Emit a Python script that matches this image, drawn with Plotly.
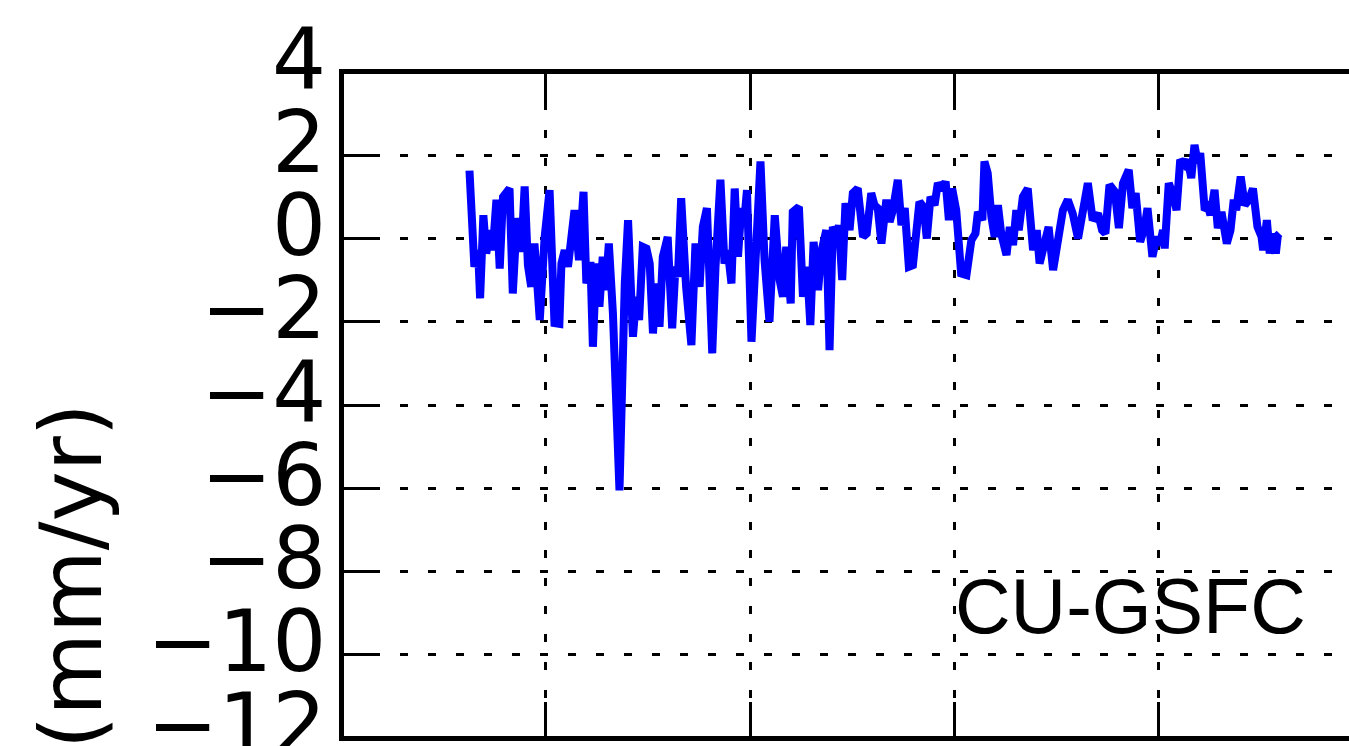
import plotly.graph_objects as go

# Rate of global mean sea level change, CU-GSFC record
years = [
    1993.13, 1993.25, 1993.34, 1993.39, 1993.47, 1993.54, 1993.64, 1993.70, 1993.79, 1993.87,
    1993.95, 1994.11, 1994.19, 1994.29, 1994.40, 1994.48, 1994.56, 1994.64, 1994.72, 1994.85,
    1994.97, 1995.09, 1995.21, 1995.33, 1995.38, 1995.46, 1995.54, 1995.62, 1995.70, 1995.81,
    1995.92, 1995.99, 1996.09, 1996.15, 1996.23, 1996.31, 1996.39, 1996.46, 1996.54, 1996.64,
    1996.80, 1996.93, 1997.01, 1997.13, 1997.21, 1997.28, 1997.37, 1997.46, 1997.54, 1997.62,
    1997.70, 1997.78, 1997.86, 1997.98, 1998.09, 1998.17, 1998.23, 1998.31, 1998.43, 1998.56,
    1998.66, 1998.76, 1998.84, 1998.94, 1999.07, 1999.15, 1999.27, 1999.37, 1999.45, 1999.54,
    1999.62, 1999.70, 1999.78, 1999.84, 1999.92, 2000.03, 2000.15, 2000.25, 2000.35, 2000.47,
    2000.60, 2000.72, 2000.80, 2000.88, 2000.99, 2001.04, 2001.19, 2001.29, 2001.39, 2001.47,
    2001.55, 2001.66, 2001.74, 2001.86, 2001.94, 2002.02, 2002.12, 2002.17, 2002.25, 2002.33,
    2002.43, 2002.51, 2002.63, 2002.76, 2002.85, 2002.96, 2003.04, 2003.12, 2003.21, 2003.33,
    2003.41, 2003.49, 2003.61, 2003.70, 2003.78, 2003.88, 2003.98, 2004.14, 2004.24, 2004.32,
    2004.41, 2004.51, 2004.59, 2004.70, 2004.78, 2004.86, 2004.94, 2005.04, 2005.16, 2005.29,
    2005.41, 2005.51, 2005.57, 2005.68, 2005.73, 2005.81, 2005.90, 2005.98, 2006.06, 2006.14,
    2006.27, 2006.35, 2006.43, 2006.51, 2006.57, 2006.67, 2006.79, 2006.92, 2007.01, 2007.08,
    2007.20, 2007.30, 2007.41, 2007.53, 2007.65, 2007.77, 2007.89, 2008.02, 2008.14, 2008.26,
    2008.38, 2008.51, 2008.61, 2008.69, 2008.79, 2008.92, 2009.02, 2009.12, 2009.26, 2009.35,
    2009.43, 2009.54, 2009.65, 2009.72, 2009.84, 2009.94, 2010.02, 2010.10, 2010.14, 2010.24,
    2010.36, 2010.43, 2010.52, 2010.63, 2010.71, 2010.79, 2010.87, 2010.95, 2011.01, 2011.12,
    2011.20, 2011.26, 2011.36, 2011.44, 2011.53, 2011.66, 2011.75, 2011.83, 2011.89, 2012.00,
    2012.10, 2012.20, 2012.30, 2012.41, 2012.51, 2012.55, 2012.64, 2012.71, 2012.79, 2012.86,
    2012.91, 2012.95,
]
rate_mm_yr = [
    1.63, -0.68, -0.28, -1.44, 0.56, -0.36, 0.20, -0.28, 0.93, -0.72,
    1.00, 1.20, -1.32, 0.49, -0.32, 1.25, -0.64, -1.16, -0.12, -1.96,
    0.04, 1.16, -2.03, -2.05, -0.60, -0.28, -0.68, 0.20, 0.68, -0.52,
    1.12, -1.08, -0.56, -2.60, -0.60, -1.64, -0.44, -1.24, -0.12, -1.80,
    -6.05, -1.08, 0.44, -2.36, -1.40, -1.96, -0.20, -0.24, -0.60, -2.28,
    -1.08, -2.12, -0.44, 0.04, -2.16, -0.68, -0.92, 0.97, -1.16, -2.56,
    -0.12, -1.16, 0.28, 0.73, -2.76, -0.68, 1.41, -0.60, -0.28, -1.08,
    1.20, -0.44, 0.73, 0.28, 1.16, -2.48, -0.04, 1.85, -0.52, -2.00,
    0.56, -1.00, -1.40, -0.20, -1.56, 0.64, 0.76, -1.40, -0.68, -2.08,
    -0.08, -1.24, -0.32, 0.20, -2.68, 0.28, 0.04, 0.32, -1.00, 0.85,
    0.20, 1.09, 1.20, 0.04, 0.12, 1.09, 0.80, 0.73, -0.12, 0.93,
    0.40, 0.68, 1.41, 0.32, 0.73, -0.68, -0.64, 0.88, 0.76, 0.00,
    1.00, 0.80, 1.33, 1.17, 1.37, 0.44, 1.20, 0.68, -0.84, -0.88,
    -0.04, 0.12, 0.64, 0.44, 1.85, 1.57, 0.52, 0.04, 0.80, 0.12,
    -0.40, 0.28, -0.16, 0.68, 0.20, 1.00, 1.20, -0.28, 0.20, -0.60,
    -0.12, 0.28, -0.76, 0.04, 0.68, 0.93, 0.60, 0.00, 0.68, 1.33,
    0.44, 0.60, 0.20, 0.12, 1.29, 1.13, 0.25, 1.33, 1.65, 0.73,
    1.09, -0.08, 0.28, 0.73, -0.44, 0.04, -0.16, 0.20, -0.24, 1.33,
    1.00, 0.68, 1.89, 1.77, 1.89, 1.45, 2.25, 1.81, 2.05, 0.68,
    0.76, 0.56, 1.17, 0.25, 0.64, -0.12, 0.20, 0.93, 0.68, 1.49,
    0.80, 0.93, 1.20, 0.28, 0.04, -0.28, 0.44, -0.36, 0.12, -0.36,
    0.08, 0.12,
]

y_ticks = [-12, -10, -8, -6, -4, -2, 0, 2, 4]
x_grid = [1995, 2000, 2005, 2010]
label_text = "CU-GSFC"
y_title = "(mm/yr)"

W, H = 1349, 746
ML, MR, MT, MB = 344, 0, 74, 10
PW = W - ML - MR
PH = H - MT - MB

# axis ranges: the 5 px spines sit just outside the plotting area,
# so the ranges stop half a spine short of 1990 / 4 / -12
X_RANGE = [1990.06, 2014.65]
Y_RANGE = [-11.952, 3.952]

fig = go.Figure()
fig.add_trace(go.Scatter(
    x=years, y=rate_mm_yr, mode="lines",
    line=dict(color="#0000FF", width=8),
    showlegend=False, hoverinfo="skip",
))

grid_style = dict(showgrid=True, gridcolor="black", gridwidth=2.5, griddash="8px,20px")

fig.update_xaxes(
    range=X_RANGE, tickvals=x_grid, showticklabels=False,
    ticks="inside", ticklen=34, tickwidth=3, tickcolor="black",
    showline=True, linecolor="black", linewidth=5, mirror="ticks",
    zeroline=False, **grid_style,
)
fig.update_yaxes(
    range=Y_RANGE, tickvals=y_ticks, showticklabels=False,
    ticks="inside", ticklen=34, tickwidth=3, tickcolor="black",
    showline=True, linecolor="black", linewidth=5, mirror=False,
    zeroline=False, **grid_style,
)


def y_paper(v):
    return (v - Y_RANGE[0]) / (Y_RANGE[1] - Y_RANGE[0])


# y tick labels, right-aligned beside the left spine
for v in y_ticks:
    txt = ("\u2212" + str(abs(v))) if v < 0 else str(v)
    fig.add_annotation(
        x=(327 - ML) / PW, y=y_paper(v), xref="paper", yref="paper", text=txt,
        showarrow=False, xanchor="right", yanchor="middle", yshift=13,
        borderpad=0, font=dict(family="DejaVu Sans", size=85, color="black"),
    )

fig.add_annotation(
    x=2004.95, y=-8.83, xref="x", yref="y", text=label_text,
    showarrow=False, xanchor="left", yanchor="middle",
    font=dict(family="Liberation Sans", size=77, color="black"),
)
fig.add_annotation(
    x=(71 - ML) / PW, y=(H - MB - 576) / PH,
    xref="paper", yref="paper", text=y_title, textangle=-90,
    showarrow=False, xanchor="center", yanchor="middle",
    font=dict(family="DejaVu Sans", size=85, color="black"),
)

fig.update_layout(
    width=W, height=H,
    margin=dict(l=ML, r=MR, t=MT, b=MB, pad=0),
    paper_bgcolor="white", plot_bgcolor="white",
    font=dict(family="DejaVu Sans"),
)

fig.write_html("out.html")
